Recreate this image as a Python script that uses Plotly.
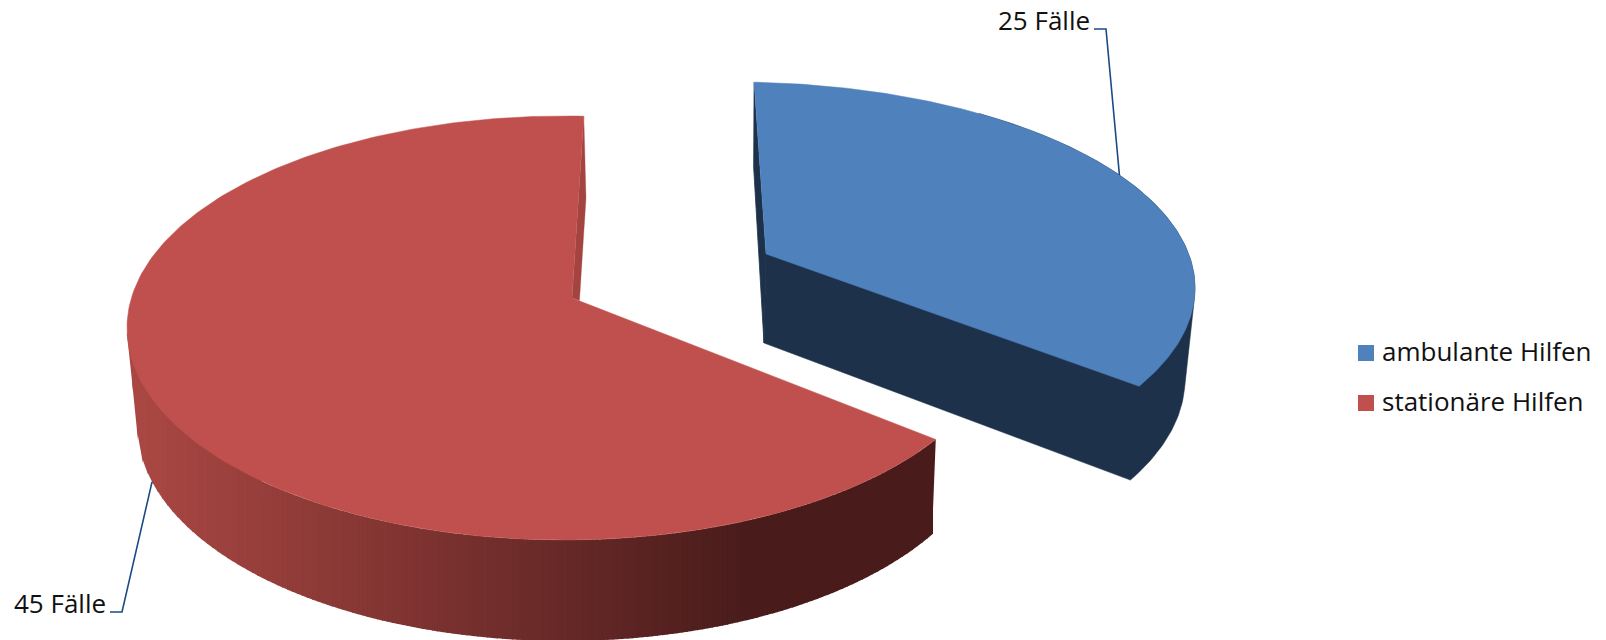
import numpy as np
import plotly.graph_objects as go

categories = ["ambulante Hilfen", "stationäre Hilfen"]
values = [25, 45]
unit = "Fälle"

W, H = 1606, 640
FONT = "Open Sans"
BLUE, RED = "#4F81BD", "#C0504D"
BLUE_DARK, RED_SLIVER = "#1D314A", "#A44441"

# view geometry of each exploded slice: ellipse (cx, cy, a, b) of top and lower rim
VIEW = [
    dict(top=(734, 288, 461, 206), low=(734, 379, 451, 212), p0=2.5,
         warp_top=-16.1, warp_low=-16.1, apex_top=(766, 254), apex_low=(764, 343)),
    dict(top=(564, 328, 437, 212), low=(564, 425, 427, 216), p0=2.6,
         warp_top=-12.1, warp_low=-14.3, apex_top=(572, 298), apex_low=(579.5, 300.5),
         sliver=(586, 198)),
]

total = sum(values)
edges = np.cumsum([0] + values) / total * 360.0


def rim(view, key, theta):
    th = np.asarray(theta, dtype=float)
    phi = np.radians(th + view["p0"] + view["warp_" + key] * np.sin(np.radians(th)))
    cx, cy, a, b = view[key]
    return cx + a * np.sin(phi), cy - b * np.cos(phi)


def poly(fig, xs, ys, color, width=0.8):
    fig.add_trace(go.Scatter(
        x=list(xs), y=list(ys), mode="lines", fill="toself", fillcolor=color,
        line=dict(color=color, width=width), hoverinfo="skip", showlegend=False))


def hull(points):
    pts = sorted(set(points))

    def half(seq):
        out = []
        for p in seq:
            while len(out) > 1 and ((out[-1][0] - out[-2][0]) * (p[1] - out[-2][1])
                                    - (out[-1][1] - out[-2][1]) * (p[0] - out[-2][0])) <= 0:
                out.pop()
            out.append(p)
        return out[:-1]

    return half(pts) + half(pts[::-1])


def wall_color(x):
    t = min(max((x - 140) / (745 - 140), 0), 1)
    c0, c1 = (170, 71, 67), (73, 28, 27)
    return "rgb(%d,%d,%d)" % tuple(round(p + (q - p) * t) for p, q in zip(c0, c1))


def wall_bounds(xt, yt, xl, yl, x):
    """Upper and lower y of the swept rim wall in the column at x."""
    lo, hi = None, None
    u = (x - xt) / np.where(np.abs(xl - xt) < 1e-6, 1e-6, xl - xt)
    ok = (u >= 0) & (u <= 1)
    if ok.any():
        ys = yt[ok] + (yl[ok] - yt[ok]) * u[ok]
        lo, hi = ys.min(), ys.max()
    for rx, ry in ((xt, yt), (xl, yl)):
        s = np.where((rx[:-1] - x) * (rx[1:] - x) <= 0)[0]
        for j in s:
            dx = rx[j + 1] - rx[j]
            f = 0.0 if abs(dx) < 1e-9 else (x - rx[j]) / dx
            y = ry[j] + (ry[j + 1] - ry[j]) * f
            lo = y if lo is None else min(lo, y)
            hi = y if hi is None else max(hi, y)
    return lo, hi


fig = go.Figure()

# red slice: wall drawn in columns so that its shade runs along x
v = VIEW[1]
t0, t1 = edges[1], edges[2]
ths = np.linspace(t0, 300, 1500)
xt, yt = rim(v, "top", ths)
xl, yl = rim(v, "low", ths)
left = xt.min() + 0.01
right = max(xt.max(), xl.max()) - 0.01
cols = np.append(np.arange(left, right, 5.0), right)
bounds = []
for c in cols:
    lo, hi = wall_bounds(xt, yt, xl, yl, c)
    # the wall only has to start under the top face
    bounds.append((None, None) if lo is None else (max(lo, v["top"][1] + 6), max(hi, v["top"][1] + 6)))
for i in range(len(cols) - 1):
    a, b = cols[i], cols[i + 1]
    la, ha = bounds[i]
    lb, hb = bounds[i + 1]
    if la is None or lb is None:
        continue
    e = 1.0 if i < len(cols) - 2 else 0.0
    sl, sh = (lb - la) / (b - a), (hb - ha) / (b - a)
    fig.add_trace(go.Scatter(
        x=[a, b + e, b + e, a], y=[la, lb + sl * e, hb + sh * e, ha],
        mode="lines", fill="toself", fillcolor=wall_color((a + b) / 2),
        line=dict(width=0), hoverinfo="skip", showlegend=False))

ths = np.linspace(t0, t1, 241)
xt, yt = rim(v, "top", ths)
poly(fig, [xt[-1], v["sliver"][0], v["apex_low"][0], v["apex_top"][0]],
     [yt[-1], v["sliver"][1], v["apex_low"][1], v["apex_top"][1]], RED_SLIVER, 0.3)
poly(fig, [v["apex_top"][0], *xt, v["apex_top"][0]], [v["apex_top"][1], *yt, v["apex_top"][1]], RED, 0.5)

# blue slice: cut wall, then one outline for the radial and rim walls
v = VIEW[0]
t0, t1 = edges[0], edges[1]
ths = np.linspace(t0, t1, 181)
xt, yt = rim(v, "top", ths)
xl, yl = rim(v, "low", ths)
poly(fig, [xt[0], xl[0], v["apex_low"][0], v["apex_top"][0]],
     [yt[0], yl[0], v["apex_low"][1], v["apex_top"][1]], BLUE_DARK)
keep = ths >= 40
pts = [v["apex_top"], v["apex_low"]]
pts += [(float(p), float(q)) for p, q in zip(xt[keep], yt[keep])]
pts += [(float(p), float(q)) for p, q in zip(xl[keep], yl[keep])]
outline = hull(pts)
poly(fig, [p[0] for p in outline] + [outline[0][0]], [p[1] for p in outline] + [outline[0][1]], BLUE_DARK, 0.5)
poly(fig, [v["apex_top"][0], *xt, v["apex_top"][0]], [v["apex_top"][1], *yt, v["apex_top"][1]], BLUE, 0.5)

# leader lines and data labels
LEADER = "#1B4A86"
leaders = [
    dict(key="top", off=5.0, elbow=(1106, 29), start=(1094, 29), lab=(1092, 20)),
    dict(key="low", off=-4.5, elbow=(122, 612), start=(110, 612), lab=(108, 603)),
]
for i, ld in enumerate(leaders):
    mid = (edges[i] + edges[i + 1]) / 2 + ld["off"]
    ex, ey = rim(VIEW[i], ld["key"], mid)
    fig.add_trace(go.Scatter(
        x=[ld["start"][0], ld["elbow"][0], float(ex)], y=[ld["start"][1], ld["elbow"][1], float(ey)],
        mode="lines", line=dict(color=LEADER, width=1.6), hoverinfo="skip", showlegend=False))
    fig.add_annotation(x=ld["lab"][0], y=ld["lab"][1], xanchor="right", yanchor="middle",
                       text=f"{values[i]} {unit}", showarrow=False,
                       font=dict(family=FONT, size=26, color="#111111"))

# legend
leg_y = [353, 403]
fig.add_trace(go.Scatter(
    x=[1366, 1366], y=leg_y, mode="markers",
    marker=dict(symbol="square", size=16, color=[BLUE, RED], line=dict(width=0)),
    hoverinfo="skip", showlegend=False))
for name, y in zip(categories, leg_y):
    fig.add_annotation(x=1380, y=y - 2, xanchor="left", yanchor="middle", text=name, showarrow=False,
                       font=dict(family=FONT, size=26, color="#111111"))

fig.update_layout(
    width=W, height=H, margin=dict(l=0, r=0, t=0, b=0),
    paper_bgcolor="white", plot_bgcolor="white", showlegend=False,
    xaxis=dict(range=[0, W], visible=False, fixedrange=True),
    yaxis=dict(range=[H, 0], visible=False, fixedrange=True),
)
fig.write_html("out.html", post_script="document.body.style.margin='0';",
               config=dict(displayModeBar=False))
